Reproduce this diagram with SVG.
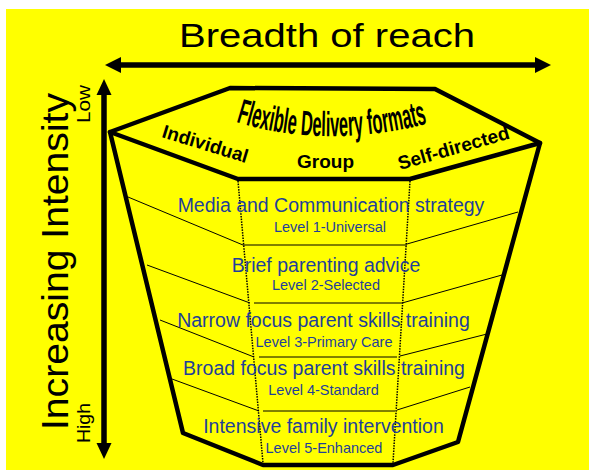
<svg xmlns="http://www.w3.org/2000/svg" width="589" height="470" viewBox="0 0 589 470">
  <defs>
    <style>
      .bg { fill: #ffff00; }
      .outline { fill: none; stroke: #000; stroke-width: 4.5; stroke-linejoin: round; stroke-linecap: round; }
      .thin { fill: none; stroke: #000; stroke-width: 1; }
      .dotted { fill: none; stroke: #000; stroke-width: 1.5; stroke-dasharray: 1.5 1.2; }
      .axis { fill: none; stroke: #000; stroke-width: 5.5; }
      .head { fill: #000; }
      .sans { font-family: "Liberation Sans", Arial, sans-serif; }
      .title { font-size: 34px; fill: #000; }
      .side { font-size: 36px; fill: #000; }
      .tick { font-size: 18px; fill: #000; }
      .fmt { font-size: 19px; font-weight: bold; fill: #000; }
      .arch { font-size: 35px; font-weight: bold; fill: #000; }
      .main { font-size: 19.5px; fill: #1f3f99; text-anchor: middle; }
      .lvl { font-size: 14.5px; fill: #1f3f99; text-anchor: middle; }
    </style>
    <path id="archPath" d="M236,122 Q326,150 430,123"/>
  </defs>

  <!-- page background -->
  <rect x="0" y="0" width="589" height="470" fill="#fff"/>
  <rect class="bg" x="6" y="9" width="583" height="461"/>

  <!-- axes -->
  <g id="connectors">
    <g id="reach-axis">
      <line class="axis" x1="118" y1="65" x2="538" y2="65"/>
      <polygon class="head" points="105,65 121,57 121,73"/>
      <polygon class="head" points="551,65 535,57 535,73"/>
    </g>
    <g id="intensity-axis">
      <line class="axis" x1="104" y1="92" x2="104" y2="446"/>
      <polygon class="head" points="104,79 96.5,95 111.5,95"/>
      <polygon class="head" points="104,459 96.5,443 111.5,443"/>
    </g>
  </g>

  <g id="title-reach">
    <text class="sans title" x="179" y="47" textLength="296" lengthAdjust="spacingAndGlyphs">Breadth of reach</text>
  </g>

  <g id="title-intensity">
    <text class="sans side" transform="translate(68,430) rotate(-90)" x="0" y="0" textLength="337" lengthAdjust="spacingAndGlyphs">Increasing Intensity</text>
    <text class="sans tick" transform="translate(90,123) rotate(-90)" x="0" y="0" textLength="38" lengthAdjust="spacingAndGlyphs">Low</text>
    <text class="sans tick" transform="translate(90,443) rotate(-90)" x="0" y="0" textLength="40" lengthAdjust="spacingAndGlyphs">High</text>
  </g>

  <!-- funnel body -->
  <g id="funnel">
    <polygon class="outline" points="230,88 435,89 540,143 458,442 393,465 263,465 183,433 110,132"/>
    <polyline class="outline" points="110,132 238,179 410,179 540,143"/>
    <line class="dotted" x1="238" y1="181" x2="263" y2="463"/>
    <line class="dotted" x1="410" y1="181" x2="393" y2="463"/>
  </g>

  <!-- top face labels -->
  <g id="formats">
    <text class="sans arch"><textPath href="#archPath" textLength="194" lengthAdjust="spacingAndGlyphs">Flexible Delivery formats</textPath></text>
    <text class="sans fmt" transform="translate(161,137) rotate(17)">Individual</text>
    <text class="sans fmt" x="297" y="168">Group</text>
    <text class="sans fmt" transform="translate(400,170) rotate(-16)">Self-directed</text>
  </g>

  <!-- band dividers -->
  <g id="bands">
    <line class="thin" x1="243" y1="245" x2="407" y2="245"/>
    <line class="thin" x1="254" y1="303" x2="402" y2="303"/>
    <line class="thin" x1="259" y1="357" x2="397" y2="357"/>
    <line class="thin" x1="263" y1="411" x2="395" y2="411"/>
    <line class="thin" x1="128" y1="197" x2="243" y2="245"/>
    <line class="thin" x1="147" y1="265" x2="250" y2="303"/>
    <line class="thin" x1="160" y1="320" x2="254" y2="357"/>
    <line class="thin" x1="172" y1="379" x2="259" y2="411"/>
    <line class="thin" x1="407" y1="244" x2="518" y2="212"/>
    <line class="thin" x1="402" y1="303" x2="502" y2="275"/>
    <line class="thin" x1="400" y1="356" x2="487" y2="334"/>
    <line class="thin" x1="397" y1="410" x2="470" y2="387"/>
  </g>

  <g id="level-1">
    <text class="sans main" x="331" y="212">Media and Communication strategy</text>
    <text class="sans lvl" x="330" y="232">Level 1-Universal</text>
  </g>
  <g id="level-2">
    <text class="sans main" x="326" y="272">Brief parenting advice</text>
    <text class="sans lvl" x="326" y="290">Level 2-Selected</text>
  </g>
  <g id="level-3">
    <text class="sans main" x="323.5" y="327">Narrow focus parent skills training</text>
    <text class="sans lvl" x="324" y="347">Level 3-Primary Care</text>
  </g>
  <g id="level-4">
    <text class="sans main" x="324" y="375">Broad focus parent skills training</text>
    <text class="sans lvl" x="323.5" y="395">Level 4-Standard</text>
  </g>
  <g id="level-5">
    <text class="sans main" x="323.5" y="433">Intensive family intervention</text>
    <text class="sans lvl" x="324" y="453">Level 5-Enhanced</text>
  </g>
</svg>
